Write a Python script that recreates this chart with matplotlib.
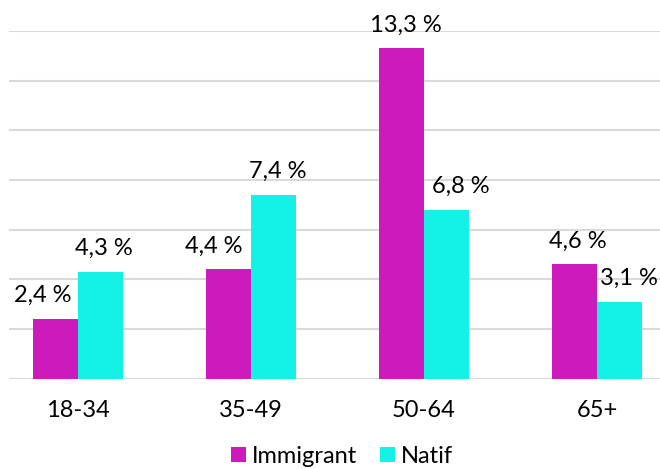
import matplotlib
matplotlib.use("Agg")
import matplotlib.pyplot as plt
import numpy as np

categories = ["18-34", "35-49", "50-64", "65+"]
immigrant = [2.4, 4.4, 13.3, 4.6]
natif = [4.3, 7.4, 6.8, 3.1]
series_names = ["Immigrant", "Natif"]

def fmt(v):
    return f"{v:.1f}".replace(".", ",") + " %"

plt.rcParams['font.family'] = ['Lato', 'DejaVu Sans']

W, H = 660, 469
fig = plt.figure(figsize=(W / 100, H / 100), dpi=100)
ax = fig.add_axes([9 / W, 1 - 378.5 / H, (W - 9) / W, (378.5 - 31) / H])

c_imm = "#CC1ABC"
c_nat = "#14F1E6"
bw = 0.26
x = np.arange(len(categories))
b1 = ax.bar(x - bw / 2, immigrant, bw, color=c_imm, zorder=3)
b2 = ax.bar(x + bw / 2, natif, bw, color=c_nat, zorder=3)

ax.set_ylim(0, 14)
ax.set_xlim(-0.399, 3.364)
ax.set_yticks(np.arange(0, 15, 2))
ax.yaxis.grid(True, color="#D9D9D9", linewidth=1.5, zorder=0)
ax.tick_params(axis='y', left=False, labelleft=False)
ax.tick_params(axis='x', bottom=False, labelsize=17, pad=12, colors="#000000")
ax.set_xticks(x)
ax.set_xticklabels(categories)
for s in ax.spines.values():
    s.set_visible(False)

# label x offsets in pixels (manual label placement in original)
off_imm = [-13, -15, 4, 3]
off_nat = [3, 4, 14, 9]
for i in range(len(categories)):
    ax.annotate(fmt(immigrant[i]), (x[i] - bw / 2, immigrant[i]),
                xytext=(off_imm[i] * 0.72, 12), textcoords="offset points",
                ha="center", va="baseline", fontsize=17, clip_on=False, annotation_clip=False)
    ax.annotate(fmt(natif[i]), (x[i] + bw / 2, natif[i]),
                xytext=(off_nat[i] * 0.72, 12), textcoords="offset points",
                ha="center", va="baseline", fontsize=17, clip_on=False, annotation_clip=False)

leg = fig.legend([b1, b2], series_names, loc="center", bbox_to_anchor=(342 / W, 1 - 456 / H),
                 ncol=2, frameon=False, fontsize=17, handlelength=0.6, handleheight=0.6,
                 handletextpad=0.25, columnspacing=1.0, borderaxespad=0)

fig.savefig("out.png", dpi=100)
